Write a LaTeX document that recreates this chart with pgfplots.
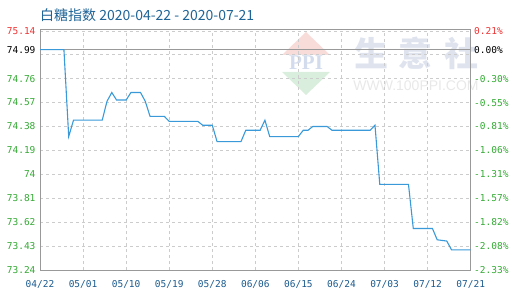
\documentclass[border=0pt]{standalone}
\usepackage{pgfplots}
\pgfplotsset{compat=1.18}
\usetikzlibrary{backgrounds}
\usepackage{fontspec}
\setmainfont{DejaVu Sans}
\newfontfamily\cjk{Noto Sans CJK SC}
\newfontfamily\mono{DejaVu Sans Mono}

\definecolor{linec}{HTML}{3A9AD9}
\definecolor{tgreen}{HTML}{33AA33}
\definecolor{tred}{HTML}{EE3333}
\definecolor{titleblue}{HTML}{1F6496}
\definecolor{xlab}{HTML}{1A5A8E}
\definecolor{axgray}{HTML}{999999}
\definecolor{gridgray}{HTML}{CCCCCC}
\definecolor{wmblue}{HTML}{DEE3EE}
\definecolor{wmppi}{HTML}{D3DCEC}
\definecolor{wmgray}{HTML}{E8E8E8}
\definecolor{wmpink}{HTML}{F8DCD9}
\definecolor{wmgreen}{HTML}{DAEEDD}

% daily sugar index, day 0 = 2020-04-22
\pgfplotstableread{
day value
0  74.99
5  74.99
6  74.30
7  74.43
13 74.43
14 74.58
15 74.65
16 74.59
18 74.59
19 74.65
21 74.65
22 74.58
23 74.46
26 74.46
27 74.42
33 74.42
34 74.39
36 74.39
37 74.26
42 74.26
43 74.35
46 74.35
47 74.43
48 74.30
54 74.30
55 74.35
56 74.35
57 74.38
60 74.38
61 74.35
69 74.35
70 74.39
71 73.92
77 73.92
78 73.57
82 73.57
83 73.48
85 73.47
86 73.40
90 73.40
}\sugar

\pgfplotsset{
  sugarframe/.style={
    scale only axis, width=430.7pt, height=240.7pt,
    xmin=0, xmax=90, ymin=73.24, ymax=75.152,
    major tick length=0pt,
  },
}

\begin{document}
\begin{tikzpicture}[x=1pt,y=1pt]

\begin{axis}[
  sugarframe,
  axis line style={draw=axgray, line width=0.8pt},
  grid=major,
  major grid style={draw=gridgray, dashed, line width=0.6pt},
  xtick={0,9,18,27,36,45,54,63,72,81,90},
  xticklabels={04/22,05/01,05/10,05/19,05/28,06/06,06/15,06/24,07/03,07/12,07/21},
  xticklabel style={text=xlab, font=\mono\fontsize{9.5}{10}\selectfont, yshift=-7pt},
  ytick={73.24,73.43,73.62,73.81,74.00,74.19,74.38,74.57,74.76,74.95,75.14},
  yticklabels={\textcolor{tgreen}{73.24},\textcolor{tgreen}{73.43},\textcolor{tgreen}{73.62},
    \textcolor{tgreen}{73.81},\textcolor{tgreen}{74},\textcolor{tgreen}{74.19},
    \textcolor{tgreen}{74.38},\textcolor{tgreen}{74.57},\textcolor{tgreen}{74.76},{},
    \textcolor{tred}{75.14}},
  yticklabel style={font=\mono\fontsize{9.5}{10}\selectfont, xshift=-1pt},
  extra y ticks={74.99},
  extra y tick labels={74.99},
  extra y tick style={grid=major, major grid style={solid, draw=axgray, line width=0.9pt}},
  clip=false,
]
\coordinate (SW) at (rel axis cs:0,0);
\coordinate (NE) at (rel axis cs:1,1);
\addplot[linec, line width=1.1pt] table[x=day, y=value] {\sugar};
\end{axis}

% percentage scale relative to 74.99
\begin{axis}[
  sugarframe,
  axis x line=none,
  axis y line*=right,
  y axis line style={draw=none},
  ytick={73.24,73.43,73.62,73.81,74.00,74.19,74.38,74.57,74.76,74.99,75.14},
  yticklabels={\textcolor{tgreen}{-2.33\%},\textcolor{tgreen}{-2.08\%},\textcolor{tgreen}{-1.82\%},
    \textcolor{tgreen}{-1.57\%},\textcolor{tgreen}{-1.31\%},\textcolor{tgreen}{-1.06\%},
    \textcolor{tgreen}{-0.81\%},\textcolor{tgreen}{-0.55\%},\textcolor{tgreen}{-0.30\%},
    0.00\%,\textcolor{tred}{0.21\%}},
  yticklabel style={font=\mono\fontsize{9.5}{10}\selectfont},
]
\end{axis}

% watermark behind the plot
\begin{scope}[on background layer, shift={(SW)}]
  \fill[wmpink] (242,215) -- (266,238) -- (290,215) -- cycle;
  \fill[wmgreen] (242,198) -- (290,198) -- (266,175) -- cycle;
  \node[text=wmppi, font=\fontspec{Liberation Serif}\bfseries\fontsize{21}{21}\selectfont] at (266,207) {PPI};
  \node[text=wmblue, font=\cjk\bfseries\fontsize{34}{34}\selectfont] at (376,216.5) {生\hspace{11pt}意\hspace{11pt}社};
  \node[text=wmgray, font=\fontspec{Liberation Sans}\fontsize{14}{14}\selectfont] at (376,184) {WWW.100PPI.COM};
\end{scope}

% title
\begin{scope}[shift={(SW)}]
  \node[anchor=west, text=titleblue, font=\cjk\fontsize{14}{16}\selectfont, inner sep=0pt] at (0,255) {白糖指数 2020-04-22 - 2020-07-21};
\end{scope}

\pgfresetboundingbox
\path[use as bounding box] ([shift={(-40pt,-30pt)}]SW) rectangle ([shift={(49.3pt,29.3pt)}]NE);
\end{tikzpicture}
\end{document}
